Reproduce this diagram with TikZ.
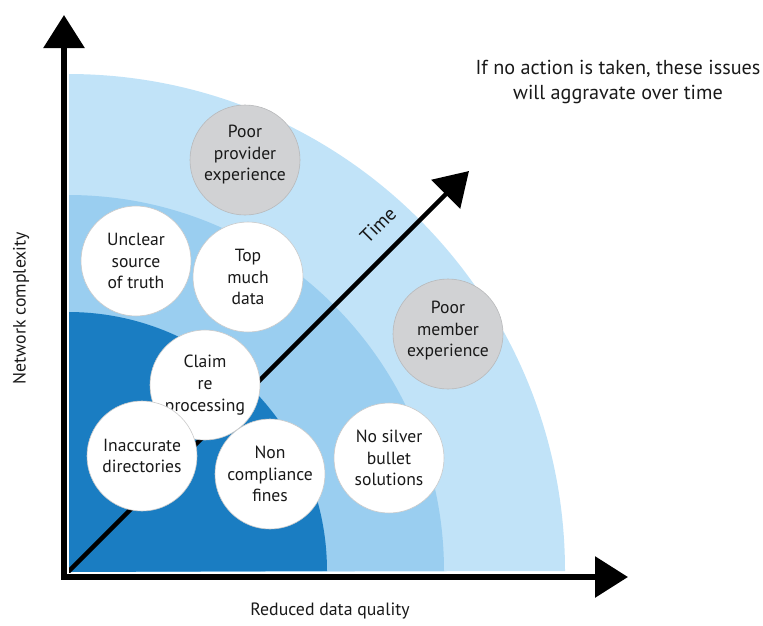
\documentclass[tikz,border=0pt]{standalone}
\usepackage{fontspec}
\setmainfont{PT Sans}
\usetikzlibrary{arrows.meta}
\definecolor{outerblue}{HTML}{C1E3F8}
\definecolor{midblue}{HTML}{9ACEF0}
\definecolor{darkblue}{HTML}{1A7DC2}
\definecolor{greyfill}{HTML}{D1D2D4}
\definecolor{greyedge}{HTML}{B8B9BB}
\definecolor{whiteedge}{HTML}{CACACA}
\begin{document}
\begin{tikzpicture}[x=1pt,y=-1pt,
  bigtip/.style={-{Triangle[length=33pt,width=40pt]}},
  issue/.style={circle,minimum size=110pt,inner sep=0pt,align=center,
    font=\fontsize{17.6}{21.7}\selectfont,text=black!90},
  whiteissue/.style={issue,fill=white,draw=whiteedge,line width=0.6pt},
  greyissue/.style={issue,fill=greyfill,draw=greyedge,line width=0.6pt},
  axislabel/.style={font=\fontsize{17.8}{20}\selectfont,text=black!90}]
\useasboundingbox (0,0) rectangle (763,625);
% zones
\fill[outerblue] (68,572) -- (68,74) arc[start angle=-90,end angle=0,radius=497] -- cycle;
\fill[midblue] (68,572) -- (68,195) arc[start angle=-90,end angle=0,radius=376] -- cycle;
\fill[darkblue] (68,572) -- (68,312) arc[start angle=-90,end angle=0,radius=259] -- cycle;
% coordinates
\coordinate (O) at (64,577);
\coordinate (Ytip) at (64,15);
\coordinate (Xtip) at (628,577);
\coordinate (T0) at (68,572);
\coordinate (Ttip) at (469,171);
% time arrow
\draw[bigtip,line width=4.5pt] (T0) -- (Ttip);
\node[rotate=45,font=\fontsize{19.5}{22}\selectfont,text=black!90] (time) at (378,225) {Time};
% axes
\draw[white,line width=9pt] (64,573) -- (64,60);
\draw[white,line width=9pt] (68,577) -- (590,577);
\draw[bigtip,line width=6pt] ([yshift=3pt]O) -- (Ytip);
\draw[bigtip,line width=6pt] ([xshift=-3pt]O) -- (Xtip);
% issues
\node[greyissue,text depth=14pt] (provider) at (245,160) {Poor\\provider\\experience};
\node[greyissue,text depth=10pt] (member) at (448,334) {Poor\\member\\experience};
\node[whiteissue] (unclear) at (136,261) {Unclear\\source\\of truth};
\node[whiteissue] (toomuch) at (248,277) {Top\\much\\data};
\node[whiteissue] (claim) at (205,385) {Claim\\re\\processing};
\node[whiteissue] (inacc) at (142,456) {Inaccurate\\directories};
\node[whiteissue] (noncomp) at (270,474) {Non\\compliance\\fines};
\node[whiteissue] (silver) at (389,458) {No silver\\bullet\\solutions};
% labels
\node[axislabel] (xlabel) at (330,611) {Reduced data quality};
\node[axislabel,rotate=90] (ylabel) at (21,308) {Network complexity};
\node[align=center,font=\fontsize{20.2}{24.5}\selectfont,text=black!90] (note) at (618,82) {If no action is taken, these issues\\will aggravate over time};
\end{tikzpicture}
\end{document}
